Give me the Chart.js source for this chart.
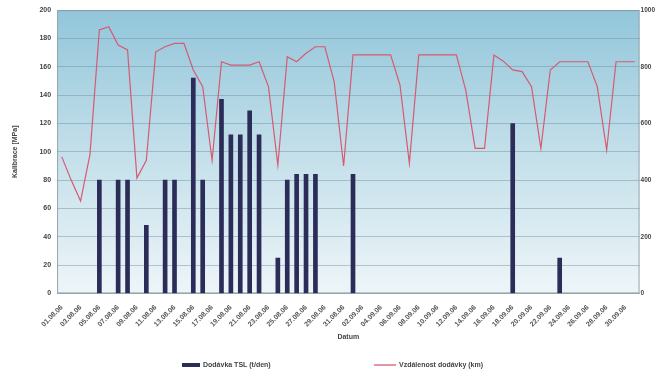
<!DOCTYPE html>
<html>
<head>
<meta charset="utf-8">
<script src="https://cdn.jsdelivr.net/npm/chart.js@4/dist/chart.umd.min.js"></script>
<style>
    html, body { margin: 0; padding: 0; background: #fff; }
    #wrap { width: 658px; height: 373px; position: relative; }
</style>
</head>
<body>
<div id="wrap"><canvas id="chart"></canvas></div>
<script>
const days = [
    '01.08.06', '02.08.06', '03.08.06', '04.08.06', '05.08.06', '06.08.06', '07.08.06', '08.08.06',
    '09.08.06', '10.08.06', '11.08.06', '12.08.06', '13.08.06', '14.08.06', '15.08.06', '16.08.06',
    '17.08.06', '18.08.06', '19.08.06', '20.08.06', '21.08.06', '22.08.06', '23.08.06', '24.08.06',
    '25.08.06', '26.08.06', '27.08.06', '28.08.06', '29.08.06', '30.08.06', '31.08.06', '01.09.06',
    '02.09.06', '03.09.06', '04.09.06', '05.09.06', '06.09.06', '07.09.06', '08.09.06', '09.09.06',
    '10.09.06', '11.09.06', '12.09.06', '13.09.06', '14.09.06', '15.09.06', '16.09.06', '17.09.06',
    '18.09.06', '19.09.06', '20.09.06', '21.09.06', '22.09.06', '23.09.06', '24.09.06', '25.09.06',
    '26.09.06', '27.09.06', '28.09.06', '29.09.06', '30.09.06', '01.10.06',
];

// tlak (levá osa), null = bez měření
const pressure = [
    null, null, null, null, 80, null, 80, 80, null, 48, null, 80, 80, null, 152, 80,
    null, 137, 112, 112, 129, 112, null, 25, 80, 84, 84, 84, null, null, null, 84,
    null, null, null, null, null, null, null, null, null, null, null, null, null, null,
    null, null, 120, null, null, null, null, 25, null, null, null, null, null, null, null, null,
];

// pravá osa
const volume = [
    482, 400, 326, 490, 930, 942, 877, 860, 407, 470, 853, 871, 883, 883, 789, 730,
    470, 818, 806, 806, 806, 818, 730, 453, 836, 818, 848, 871, 871, 747, 450, 842,
    842, 842, 842, 842, 736, 459, 842, 842, 842, 842, 842, 718, 512, 512, 842, 820,
    789, 783, 730, 512, 789, 818, 818, 818, 818, 730, 506, 818, 818, 818,
];

const tickFont = { family: 'Liberation Sans, Arial, sans-serif', size: 7, weight: 'bold' };

const plotBackground = {
    id: 'plotBackground',
    beforeDraw(chart) {
        const { ctx, chartArea: a } = chart;
        const g = ctx.createLinearGradient(0, a.top, 0, a.bottom);
        g.addColorStop(0, '#92c6da');
        g.addColorStop(0.5, '#c3dfea');
        g.addColorStop(1, '#eef5f8');
        ctx.save();
        ctx.fillStyle = g;
        ctx.fillRect(a.left, a.top, a.right - a.left, a.bottom - a.top);
        ctx.strokeStyle = '#9aa6ad';
        ctx.lineWidth = 1;
        ctx.strokeRect(a.left + 0.5, a.top + 0.5, a.right - a.left - 1, a.bottom - a.top - 1);
        ctx.restore();
    },
};

// legenda dole, ručně (vestavěná legenda dává moc velké mezery)
const bottomLegend = {
    id: 'bottomLegend',
    afterDraw(chart) {
        const { ctx } = chart;
        const [bars, line] = chart.data.datasets;
        const y = 365;
        ctx.save();
        ctx.font = 'bold 7px Liberation Sans, Arial, sans-serif';
        ctx.textBaseline = 'middle';

        ctx.fillStyle = bars.backgroundColor;
        ctx.fillRect(182, y - 2, 18, 4);
        ctx.fillStyle = '#444';
        ctx.fillText(bars.label, 203, y);

        ctx.strokeStyle = line.borderColor;
        ctx.lineWidth = 1.3;
        ctx.beginPath();
        ctx.moveTo(374, y);
        ctx.lineTo(396, y);
        ctx.stroke();
        ctx.fillText(line.label, 399, y);
        ctx.restore();
    },
};

new Chart(document.getElementById('chart'), {
    data: {
        labels: days,
        datasets: [{
            type: 'bar',
            label: 'Dodávka TSL (t/den)',
            data: pressure,
            yAxisID: 'y',
            backgroundColor: '#2b2c58',
            barThickness: 4,
            order: 2,
        }, {
            type: 'line',
            label: 'Vzdálenost dodávky (km)',
            data: volume,
            yAxisID: 'y1',
            borderColor: '#d65a72',
            backgroundColor: '#d65a72',
            borderWidth: 1.2,
            pointRadius: 0,
            tension: 0,
            order: 1,
        }],
    },
    options: {
        responsive: true,
        maintainAspectRatio: false,
        animation: false,
        layout: { padding: { top: 10, right: 2, left: 7, bottom: 32 } },
        plugins: {
            legend: { display: false },
            tooltip: { enabled: false },
        },
        scales: {
            x: {
                offset: true,
                grid: { display: false },
                border: { color: '#9aa6ad' },
                ticks: {
                    font: tickFont,
                    color: '#555',
                    maxRotation: 45,
                    minRotation: 45,
                    autoSkip: false,
                    padding: 2,
                    callback(value, index) {
                        return index % 2 === 0 ? this.getLabelForValue(value) : '';
                    },
                },
                title: { display: true, text: 'Datum', font: tickFont, color: '#444', padding: { top: 2, bottom: 0 } },
            },
            y: {
                min: 0,
                max: 200,
                position: 'left',
                ticks: { stepSize: 20, font: tickFont, color: '#444', padding: 6 },
                grid: { color: 'rgba(110,140,160,0.45)', drawTicks: false },
                border: { display: false },
                title: { display: true, text: 'Kalibrace [MPa]', font: tickFont, color: '#444', padding: { bottom: 14 } },
            },
            y1: {
                min: 0,
                max: 1000,
                position: 'right',
                ticks: {
                    stepSize: 200,
                    font: { ...tickFont, size: 6.5 },
                    color: '#444',
                    padding: 1,
                    callback: (v) => String(v),
                },
                grid: { display: false, drawTicks: false },
                border: { display: false },
            },
        },
    },
    plugins: [plotBackground, bottomLegend],
});
</script>
</body>
</html>
